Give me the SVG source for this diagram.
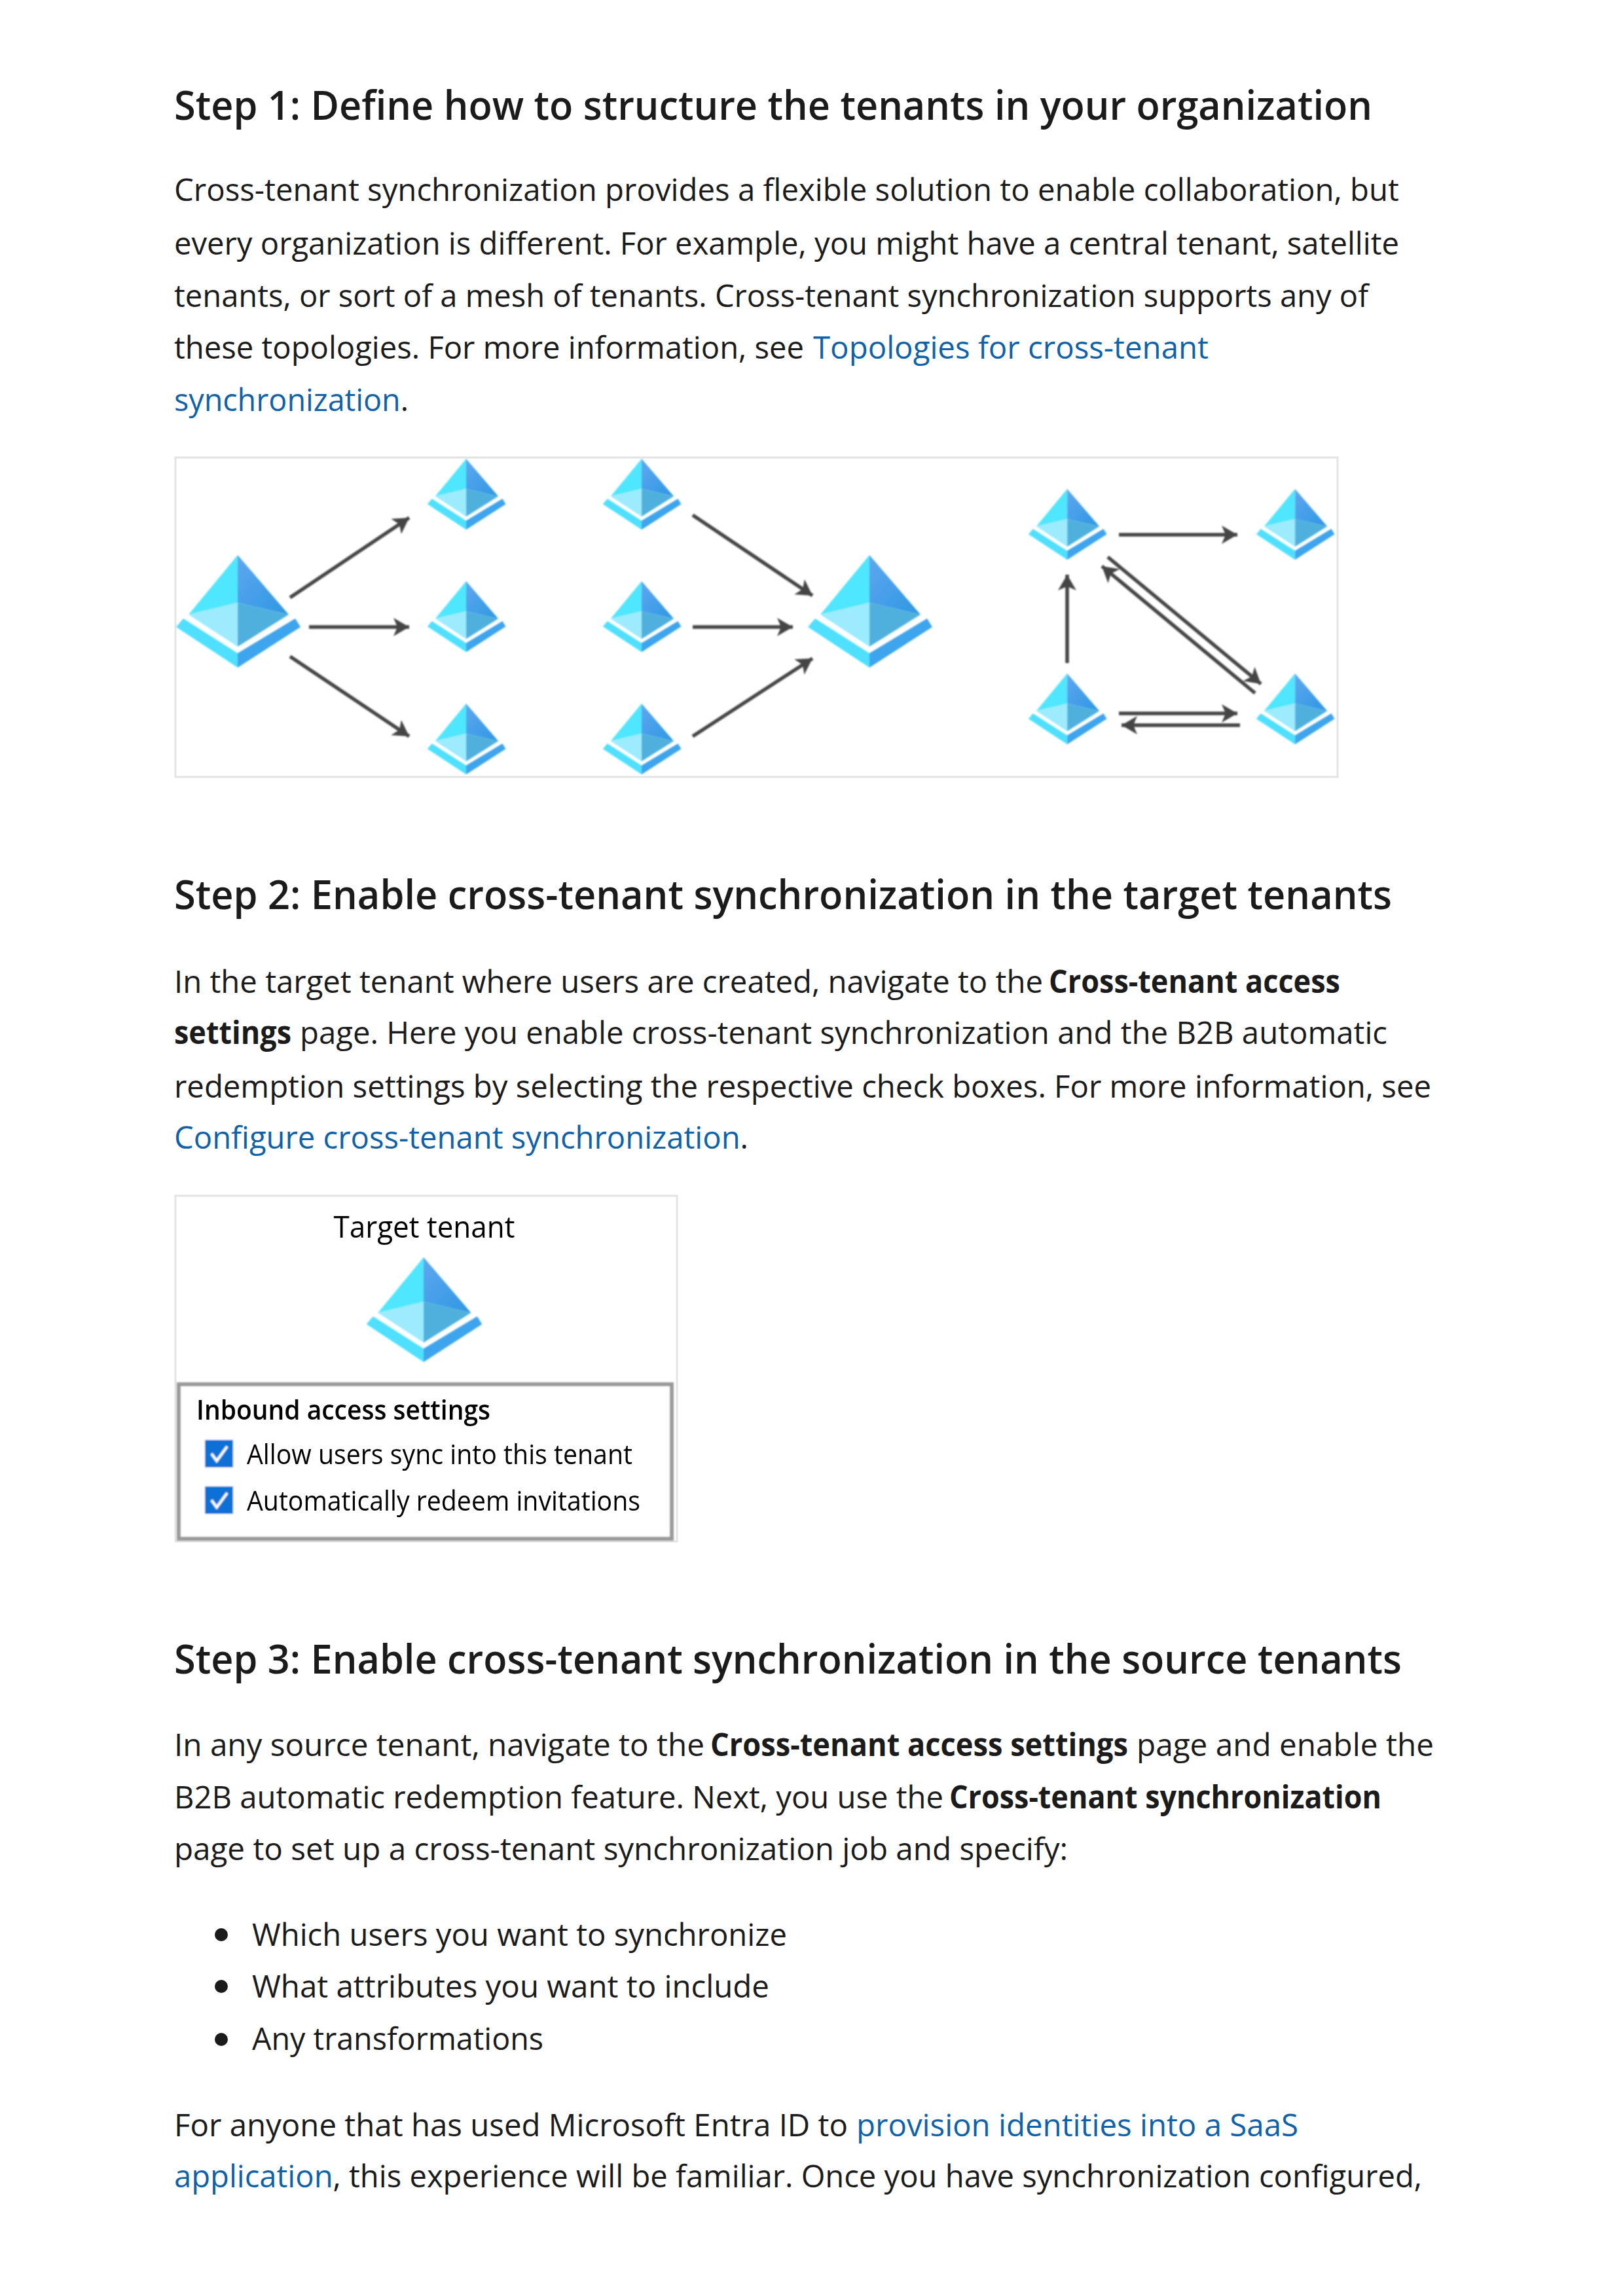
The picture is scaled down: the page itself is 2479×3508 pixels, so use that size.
<svg xmlns="http://www.w3.org/2000/svg" width="2479" height="3508" viewBox="0 0 2479 3508">
<style>
text{font-family:"Open Sans","Noto Sans","Liberation Sans",sans-serif;fill:#1b1b1b}
.h{font-size:62px;font-weight:600}
.b{font-size:48px}
.s{font-weight:700}
.l{fill:#0f62a8}
.c{stroke:#444;stroke-width:5.5;fill:none;marker-end:url(#a)}
.f{fill:#fff;stroke:#e4e4e4;stroke-width:3}
.soft{filter:url(#soft)}
.k{fill:#000;filter:url(#soft2)}
</style>
<defs>
<filter id="soft" x="-5%" y="-5%" width="110%" height="110%"><feGaussianBlur stdDeviation="0.8"/></filter>
<filter id="soft2" x="-5%" y="-20%" width="110%" height="140%"><feGaussianBlur stdDeviation="0.4"/></filter>
<linearGradient id="g" x1="0" y1="0" x2="1" y2="1"><stop offset="0" stop-color="#5ea7f0"/><stop offset="1" stop-color="#2e97e2"/></linearGradient>
<marker id="a" markerUnits="userSpaceOnUse" markerWidth="28" markerHeight="30" refX="24" refY="14" orient="auto"><path d="M0 0L24 14L0 28L6 14Z" fill="#444"/></marker>
<g id="i">
<path d="M0 0L-75 91L0 73Z" fill="#50e6ff"/>
<path d="M0 0L78 91L0 73Z" fill="url(#g)"/>
<path d="M-75 91L0 73V140Z" fill="#9cebff"/>
<path d="M78 91L0 73V140Z" fill="#50b0de"/>
<path d="M-94 110L-83 97L0 150V172Z" fill="#50e0ff"/>
<path d="M96 110L88 97L0 150V172Z" fill="#3ea4ee"/>
</g>
</defs>
<rect width="2479" height="3508" fill="#fff"/>

<g id="step1">
<text class="h" x="266" y="183" textLength="1830" lengthAdjust="spacingAndGlyphs">Step 1: Define how to structure the tenants in your organization</text>
<text class="b" x="266" y="307" textLength="1871" lengthAdjust="spacingAndGlyphs">Cross-tenant synchronization provides a flexible solution to enable collaboration, but</text>
<text class="b" x="266" y="389" textLength="1871" lengthAdjust="spacingAndGlyphs">every organization is different. For example, you might have a central tenant, satellite</text>
<text class="b" x="266" y="469" textLength="1824" lengthAdjust="spacingAndGlyphs">tenants, or sort of a mesh of tenants. Cross-tenant synchronization supports any of</text>
<text class="b" x="266" y="548" textLength="962" lengthAdjust="spacingAndGlyphs">these topologies. For more information, see</text>
<text class="b l" x="1242" y="548" textLength="604" lengthAdjust="spacingAndGlyphs">Topologies for cross-tenant</text>
<text class="b" x="266" y="628" textLength="358" lengthAdjust="spacingAndGlyphs"><tspan class="l">synchronization</tspan>.</text>
</g>

<g id="frame1"><rect class="f" x="268" y="699" width="1775" height="488"/></g>
<g class="soft">
<g id="t1"><use href="#i" x="363" y="848"/></g>
<g id="t2"><use href="#i" transform="translate(712 701) scale(.63)"/></g>
<g id="t3"><use href="#i" transform="translate(712 888) scale(.63)"/></g>
<g id="t4"><use href="#i" transform="translate(712 1075) scale(.63)"/></g>
<g id="t5"><use href="#i" transform="translate(980 701) scale(.63)"/></g>
<g id="t6"><use href="#i" transform="translate(980 888) scale(.63)"/></g>
<g id="t7"><use href="#i" transform="translate(980 1075) scale(.63)"/></g>
<g id="t8"><use href="#i" x="1328" y="848"/></g>
<g id="t9"><use href="#i" transform="translate(1630 747) scale(.63)"/></g>
<g id="t10"><use href="#i" transform="translate(1978 747) scale(.63)"/></g>
<g id="t11"><use href="#i" transform="translate(1630 1029) scale(.63)"/></g>
<g id="t12"><use href="#i" transform="translate(1978 1029) scale(.63)"/></g>
</g>

<g id="connectors" class="soft">
<line class="c" x1="443" y1="913" x2="625" y2="791"/>
<line class="c" x1="472" y1="958" x2="625" y2="958"/>
<line class="c" x1="443" y1="1003" x2="625" y2="1125"/>
<line class="c" x1="1058" y1="787" x2="1241" y2="910"/>
<line class="c" x1="1058" y1="958" x2="1211" y2="958"/>
<line class="c" x1="1058" y1="1125" x2="1241" y2="1006"/>
<line class="c" x1="1709" y1="817" x2="1890" y2="817"/>
<line class="c" x1="1630" y1="1013" x2="1630" y2="878"/>
<line class="c" x1="1692" y1="851" x2="1926" y2="1045"/>
<line class="c" x1="1917" y1="1059" x2="1683" y2="865"/>
<line class="c" x1="1709" y1="1090" x2="1890" y2="1090"/>
<line class="c" x1="1894" y1="1108" x2="1713" y2="1108"/>
</g>

<g id="step2">
<text class="h" x="266" y="1389" textLength="1860" lengthAdjust="spacingAndGlyphs">Step 2: Enable cross-tenant synchronization in the target tenants</text>
<text class="b" x="266" y="1517" textLength="1327" lengthAdjust="spacingAndGlyphs">In the target tenant where users are created, navigate to the</text>
<text class="b s" x="1602" y="1517" textLength="445" lengthAdjust="spacingAndGlyphs">Cross-tenant access</text>
<text class="b s" x="266" y="1595" textLength="179" lengthAdjust="spacingAndGlyphs">settings</text>
<text class="b" x="458" y="1595" textLength="1661" lengthAdjust="spacingAndGlyphs">page. Here you enable cross-tenant synchronization and the B2B automatic</text>
<text class="b" x="266" y="1677" textLength="1920" lengthAdjust="spacingAndGlyphs">redemption settings by selecting the respective check boxes. For more information, see</text>
<text class="b" x="266" y="1755" textLength="877" lengthAdjust="spacingAndGlyphs"><tspan class="l">Configure cross-tenant synchronization</tspan>.</text>
</g>

<g id="frame2">
<rect class="f" x="268" y="1827" width="766" height="528"/>
<g class="soft">
<use href="#i" transform="translate(647 1921) scale(.93)"/>
<rect x="273" y="2115" width="753" height="236" fill="#fff" stroke="#999" stroke-width="6"/>
<rect x="313" y="2200" width="43" height="42" fill="#0b6fd6"/>
<path d="M323 2221L331 2232L347 2210" fill="none" stroke="#fff" stroke-width="4"/>
<rect x="313" y="2271" width="43" height="42" fill="#0b6fd6"/>
<path d="M323 2292L331 2303L347 2281" fill="none" stroke="#fff" stroke-width="4"/>
</g>
<text class="k" x="648" y="1891" text-anchor="middle" font-size="46" textLength="277" lengthAdjust="spacingAndGlyphs">Target tenant</text>
<text class="k" x="300" y="2169" font-size="42" font-weight="600" textLength="449" lengthAdjust="spacingAndGlyphs">Inbound access settings</text>
<text class="k" x="377" y="2237" font-size="42" textLength="589" lengthAdjust="spacingAndGlyphs">Allow users sync into this tenant</text>
<text class="k" x="377" y="2308" font-size="42" textLength="601" lengthAdjust="spacingAndGlyphs">Automatically redeem invitations</text>
</g>

<g id="step3">
<text class="h" x="266" y="2557" textLength="1875" lengthAdjust="spacingAndGlyphs">Step 3: Enable cross-tenant synchronization in the source tenants</text>
<text class="b" x="266" y="2683" textLength="810" lengthAdjust="spacingAndGlyphs">In any source tenant, navigate to the</text>
<text class="b s" x="1085" y="2683" textLength="638" lengthAdjust="spacingAndGlyphs">Cross-tenant access settings</text>
<text class="b" x="1736" y="2683" textLength="454" lengthAdjust="spacingAndGlyphs">page and enable the</text>
<text class="b" x="266" y="2763" textLength="1175" lengthAdjust="spacingAndGlyphs">B2B automatic redemption feature. Next, you use the</text>
<text class="b s" x="1450" y="2763" textLength="660" lengthAdjust="spacingAndGlyphs">Cross-tenant synchronization</text>
<text class="b" x="266" y="2842" textLength="1365" lengthAdjust="spacingAndGlyphs">page to set up a cross-tenant synchronization job and specify:</text>
<circle cx="338" cy="2956" r="10" fill="#1b1b1b"/>
<text class="b" x="385" y="2973" textLength="817" lengthAdjust="spacingAndGlyphs">Which users you want to synchronize</text>
<circle cx="338" cy="3035" r="10" fill="#1b1b1b"/>
<text class="b" x="385" y="3052" textLength="790" lengthAdjust="spacingAndGlyphs">What attributes you want to include</text>
<circle cx="338" cy="3116" r="10" fill="#1b1b1b"/>
<text class="b" x="385" y="3132" textLength="445" lengthAdjust="spacingAndGlyphs">Any transformations</text>
<text class="b" x="266" y="3264" textLength="1029" lengthAdjust="spacingAndGlyphs">For anyone that has used Microsoft Entra ID to</text>
<text class="b l" x="1308" y="3264" textLength="675" lengthAdjust="spacingAndGlyphs">provision identities into a SaaS</text>
<text class="b" x="266" y="3342" textLength="1906" lengthAdjust="spacingAndGlyphs"><tspan class="l">application</tspan>, this experience will be familiar. Once you have synchronization configured,</text>
</g>
</svg>
